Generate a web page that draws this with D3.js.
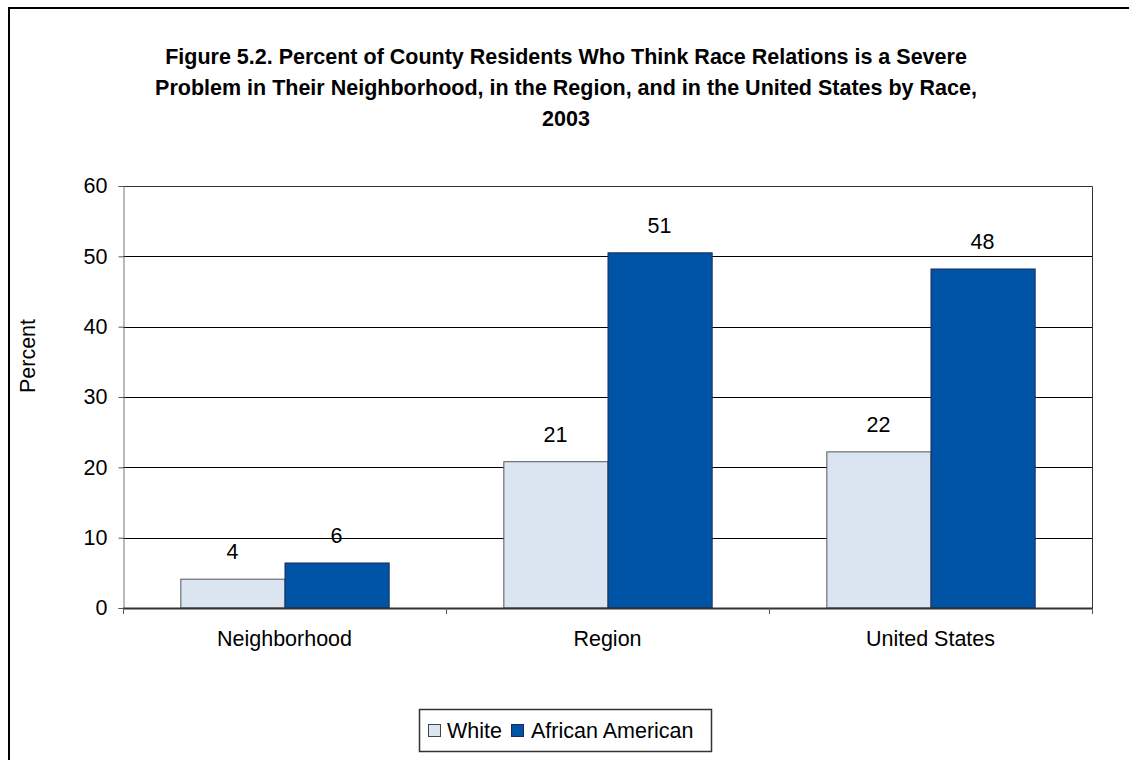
<!DOCTYPE html>
<html>
<head>
<meta charset="utf-8">
<script src="https://cdn.jsdelivr.net/npm/d3@7"></script>
<style>
  html, body { margin: 0; padding: 0; background: #fff; }
  svg text { font-family: "Liberation Sans", Arial, sans-serif; fill: #000; }
</style>
</head>
<body>
<svg id="chart" width="1129" height="760"></svg>
<script>
// Chart data
const categories = ["Neighborhood", "Region", "United States"];
const seriesNames = ["White", "African American"];
const whiteValues = [4.1, 20.8, 22.2];
const africanAmericanValues = [6.4, 50.5, 48.2];
const yTicks = [0, 10, 20, 30, 40, 50, 60];
const titleLines = [
  "Figure 5.2. Percent of County Residents Who Think Race Relations is a Severe",
  "Problem in Their Neighborhood, in the Region, and in the United States by Race,",
  "2003"
];
const yAxisTitle = "Percent";

const colors = { "White": "#dbe5f1", "African American": "#0054a5" };
const strokes = { "White": "#555555", "African American": "#1b2a5a" };
const fontSize = 21.5;

const svg = d3.select("#chart");

// Outer chart frame (runs off the right and bottom edges)
svg.append("rect")
  .attr("x", 9).attr("y", 8)
  .attr("width", 1140).attr("height", 780)
  .attr("fill", "none").attr("stroke", "#000").attr("stroke-width", 2);

// Title
const title = svg.append("text")
  .attr("text-anchor", "middle")
  .attr("font-weight", "bold")
  .attr("font-size", 21.5);
titleLines.forEach((t, i) => {
  title.append("tspan").attr("x", 566).attr("y", 64 + i * 31).text(t);
});

// Plot area
const plot = { left: 123, right: 1092, top: 186, bottom: 608 };

const y = d3.scaleLinear().domain([0, 60]).range([plot.bottom, plot.top]);
const x0 = d3.scaleBand().domain(categories)
  .range([plot.left, plot.right])
  .paddingInner(0.355).paddingOuter(0.1775);
const x1 = d3.scaleBand().domain(seriesNames)
  .range([0, x0.bandwidth()]).padding(0);

// Gridlines
svg.append("g")
  .selectAll("line")
  .data(yTicks.filter(d => d > 0 && d < 60))
  .join("line")
  .attr("x1", plot.left).attr("x2", plot.right)
  .attr("y1", d => Math.round(y(d)) + 0.5).attr("y2", d => Math.round(y(d)) + 0.5)
  .attr("stroke", "#000").attr("stroke-width", 1);

// Top and right plot borders
svg.append("path")
  .attr("d", `M${plot.left},${plot.top + 0.5}H${plot.right + 0.5}V${plot.bottom}`)
  .attr("fill", "none").attr("stroke", "#333").attr("stroke-width", 1);

// Bars
const rows = categories.map((c, i) => ({
  category: c,
  values: [
    { series: "White", value: whiteValues[i] },
    { series: "African American", value: africanAmericanValues[i] }
  ]
}));

const groups = svg.append("g").selectAll("g")
  .data(rows).join("g")
  .attr("transform", d => `translate(${x0(d.category)},0)`);

groups.selectAll("rect")
  .data(d => d.values).join("rect")
  .attr("x", d => x1(d.series) + 0.5)
  .attr("y", d => y(d.value))
  .attr("width", x1.bandwidth())
  .attr("height", d => y(0) - y(d.value))
  .attr("fill", d => colors[d.series])
  .attr("stroke", d => strokes[d.series])
  .attr("stroke-width", 1);

// Value labels
groups.selectAll("text")
  .data(d => d.values).join("text")
  .attr("x", d => x1(d.series) + x1.bandwidth() / 2)
  .attr("y", d => y(d.value) - 20)
  .attr("text-anchor", "middle")
  .attr("font-size", fontSize)
  .text(d => Math.round(d.value));

// Y axis
const yAxis = svg.append("g")
  .attr("transform", `translate(${plot.left + 0.5},0)`)
  .call(d3.axisLeft(y).tickValues(yTicks).tickSize(5).tickPadding(11).tickFormat(d3.format("d")));
yAxis.select(".domain").attr("stroke", "#777");
yAxis.selectAll(".tick line").attr("stroke", "#555");
yAxis.selectAll("text").attr("font-size", fontSize).attr("font-family", "Liberation Sans, Arial, sans-serif").attr("fill", "#000");

// X axis baseline with category-boundary ticks
const xAxis = svg.append("g");
xAxis.append("line")
  .attr("x1", plot.left).attr("x2", plot.right + 1)
  .attr("y1", plot.bottom + 0.5).attr("y2", plot.bottom + 0.5)
  .attr("stroke", "#333").attr("stroke-width", 2);
const boundaries = [plot.left, ...categories.map(c => x0(c) + x0.bandwidth() + x0.step() * x0.paddingOuter())];
xAxis.selectAll(".xtick")
  .data(boundaries).join("line")
  .attr("class", "xtick")
  .attr("x1", d => Math.round(d) + 0.5).attr("x2", d => Math.round(d) + 0.5)
  .attr("y1", plot.bottom).attr("y2", plot.bottom + 6)
  .attr("stroke", "#555");
xAxis.selectAll("text")
  .data(categories).join("text")
  .attr("x", d => x0(d) + x0.bandwidth() / 2)
  .attr("y", 646)
  .attr("text-anchor", "middle")
  .attr("font-size", fontSize)
  .text(d => d);

// Y axis title
svg.append("text")
  .attr("transform", "translate(35,356) rotate(-90)")
  .attr("text-anchor", "middle")
  .attr("font-size", fontSize)
  .text(yAxisTitle);

// Legend
const legend = svg.append("g");
legend.append("rect")
  .attr("x", 419.5).attr("y", 709.5)
  .attr("width", 292).attr("height", 42)
  .attr("fill", "#fff").attr("stroke", "#333").attr("stroke-width", 1.5);
const legendItems = [
  { name: "White", sx: 428, tx: 447 },
  { name: "African American", sx: 511, tx: 531 }
];
legend.selectAll(".sw").data(legendItems).join("rect")
  .attr("class", "sw")
  .attr("x", d => d.sx + 0.5).attr("y", 724.5)
  .attr("width", 12).attr("height", 12)
  .attr("fill", d => colors[d.name])
  .attr("stroke", d => d.name === "White" ? "#444" : "#1b2a5a");
legend.selectAll(".lt").data(legendItems).join("text")
  .attr("class", "lt")
  .attr("x", d => d.tx).attr("y", 738)
  .attr("font-size", fontSize)
  .text(d => d.name);
</script>
</body>
</html>
